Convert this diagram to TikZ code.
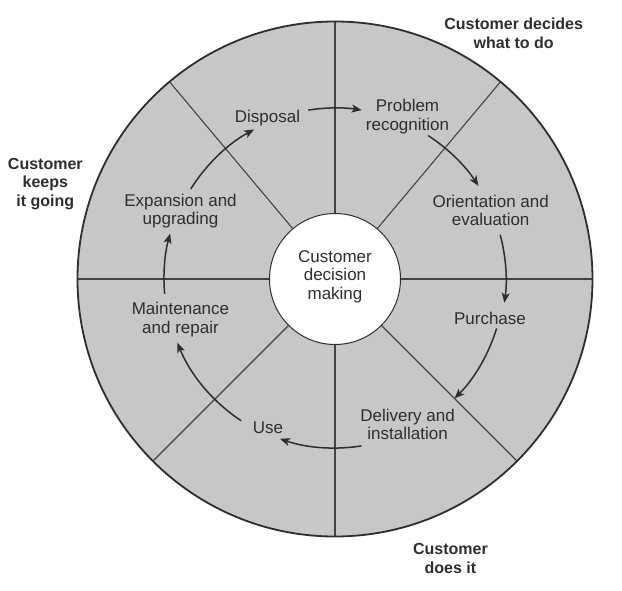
\documentclass[tikz,border=0pt]{standalone}
\usepackage{fontspec}
\setmainfont{Liberation Sans}
\usetikzlibrary{arrows.meta}
\definecolor{fillgray}{HTML}{C6C8C7}
\definecolor{ink}{HTML}{2E2E2E}
\begin{document}
\begin{tikzpicture}[x=1pt,y=1pt,
  lbl/.style={text=ink, align=center, font=\fontsize{17}{18.3}\selectfont, inner sep=0pt},
  side/.style={text=ink, align=center, font=\fontsize{16}{18.4}\selectfont\bfseries, inner sep=0pt},
  divider/.style={draw=ink!90, line width=1.1pt},
  cyc/.style={draw=ink, line width=1.5pt, -{Stealth[length=10pt,width=8pt,inset=2.5pt]}}]
\useasboundingbox (-335,-311) rectangle (287,279);
\fill[white] (-335,-311) rectangle (287,279);
\coordinate (O) at (0,0);
\fill[fillgray] (O) circle[radius=257.5];
\foreach \a in {0,50,90,130,180,225,270,315}
  \draw[divider] ([shift={(\a:64)}]O) -- ([shift={(\a:257.5)}]O);
\draw[draw=ink, line width=1.8pt] (O) circle[radius=257.5];
\node[circle, draw=ink, line width=1pt, fill=white, minimum size=131pt, inner sep=0pt] (hub) at (O) {};
\node[lbl] (hubtext) at (0,2.4) {Customer\\decision\\making};

\node[lbl] (disp) at (-67.5,160.4) {Disposal};
\node[lbl] (prob) at (72.5,162.5) {Problem\\recognition};
\node[lbl] (orie) at (155.7,68.4) {Orientation and\\evaluation};
\node[lbl] (purc) at (155,-39.6) {Purchase};
\node[lbl] (deli) at (72.6,-145.6) {Delivery and\\installation};
\node[lbl] (use) at (-67,-148.6) {Use};
\node[lbl] (main) at (-154.5,-40.6) {Maintenance\\and repair};
\node[lbl] (expa) at (-154.5,67.7) {Expansion and\\upgrading};

\node[side] (decides) at (178.7,245.7) {Customer decides\\what to do};
\node[side] (keeps) at (-289.7,95.1) {Customer\\keeps\\it going};
\node[side] (does) at (115.4,-279.6) {Customer\\does it};

\draw[cyc] ([shift={(99:171)}]O) arc[start angle=99, end angle=81, radius=171];
\draw[cyc] ([shift={(57:171)}]O) arc[start angle=57, end angle=33, radius=171];
\draw[cyc] ([shift={(15:171)}]O) arc[start angle=15, end angle=-8, radius=171];
\draw[cyc] ([shift={(-17:169)}]O) arc[start angle=-17, end angle=-45, radius=169];
\draw[cyc] ([shift={(-81:169)}]O) arc[start angle=-81, end angle=-109, radius=169];
\draw[cyc] ([shift={(-123.5:170)}]O) arc[start angle=-123.5, end angle=-158, radius=170];
\draw[cyc] ([shift={(185:171)}]O) arc[start angle=185, end angle=164.6, radius=171];
\draw[cyc] ([shift={(148:170)}]O) arc[start angle=148, end angle=118.4, radius=170];
\end{tikzpicture}
\end{document}
